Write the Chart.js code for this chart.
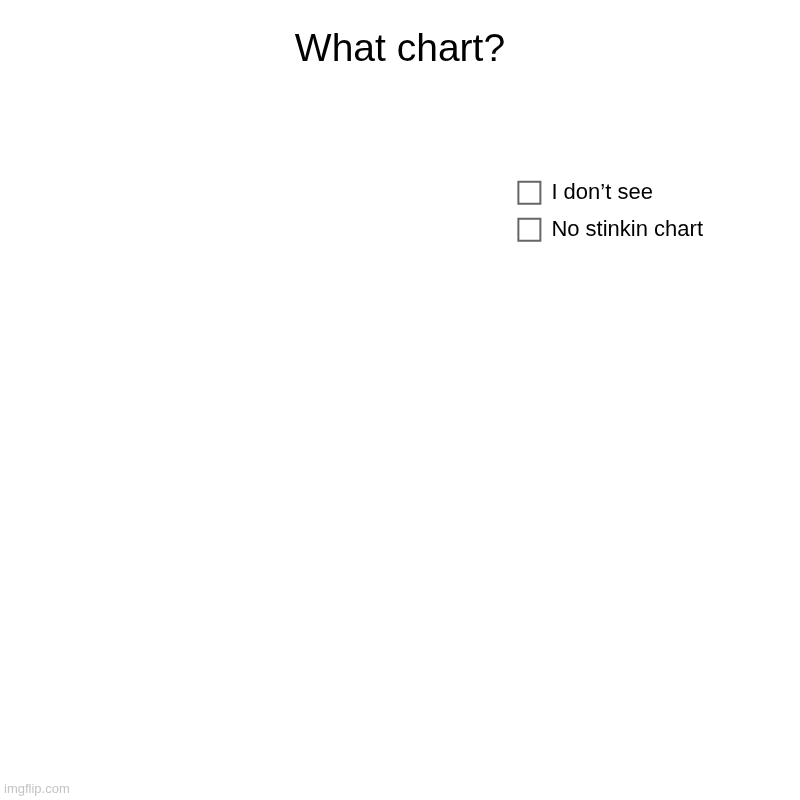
<!DOCTYPE html>
<html lang="en">
<head>
  <meta charset="UTF-8">
  <title>What chart?</title>
  <script src="https://cdn.jsdelivr.net/npm/chart.js"></script>
  <style>
    body { margin: 0; background: #fff; }
    .wrap { position: relative; width: 800px; height: 800px; }
    .mark { position: absolute; left: 4px; bottom: 4px; font-family: "Liberation Sans", Arial, sans-serif; font-size: 13px; color: #c4c4c4; }
  </style>
</head>
<body>
  <div class="wrap">
    <canvas id="pieChart" width="800" height="800"></canvas>
    <span class="mark">imgflip.com</span>
  </div>
  <script>
    const labels = ['I don\u2019t see', 'No stinkin chart'];
    const values = [0, 0];

    const ctx = document.getElementById('pieChart').getContext('2d');
    const chart = new Chart(ctx, {
      type: 'pie',
      data: {
        labels: labels,
        datasets: [{
          data: values,
          backgroundColor: ['#ffffff', '#ffffff'],
          borderColor: '#666666',
          borderWidth: 2
        }]
      },
      options: {
        responsive: false,
        animation: false,
        layout: { padding: { left: 87, right: 87 } },
        plugins: {
          title: {
            display: true,
            text: 'What chart?',
            color: '#000',
            font: { family: 'Liberation Sans', size: 39, weight: 'normal' },
            padding: { top: 27, bottom: 93 }
          },
          legend: {
            position: 'right',
            align: 'start',
            fullSize: false,
            labels: {
              color: '#000',
              boxWidth: 22,
              boxHeight: 22,
              padding: 15,
              font: { family: 'Liberation Sans', size: 22 }
            }
          },
          tooltip: { enabled: false }
        }
      }
    });
  </script>
</body>
</html>
